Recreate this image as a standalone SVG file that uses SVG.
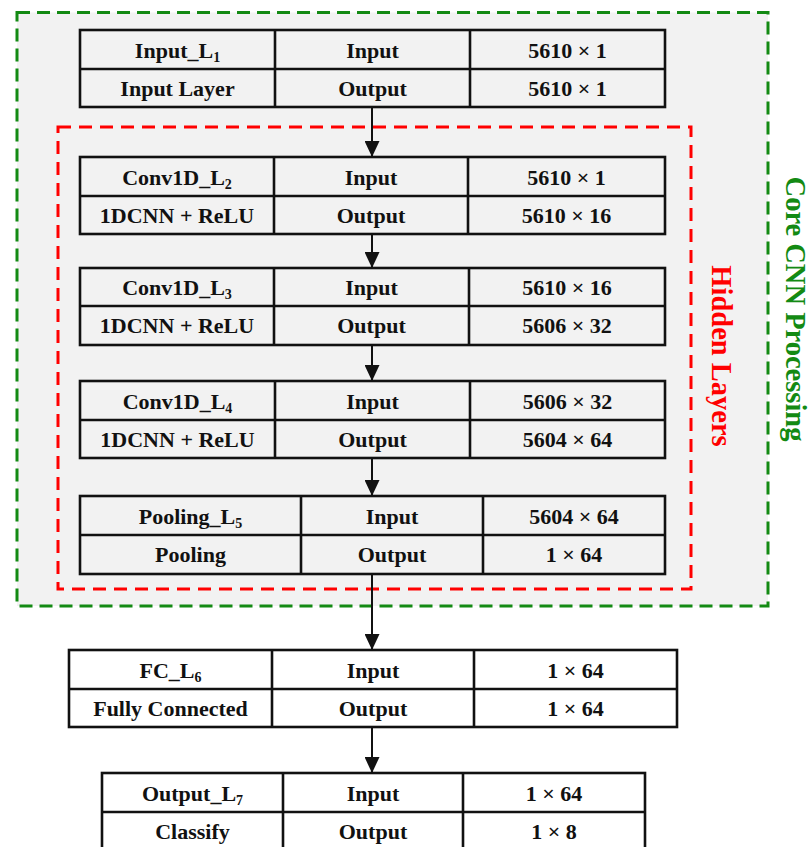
<svg xmlns="http://www.w3.org/2000/svg" width="810" height="847" viewBox="0 0 810 847">
  <style>
    .cell { fill: none; stroke: #111; stroke-width: 2.6; }
    .grid { stroke: #111; stroke-width: 2.6; }
    .t { font-family: "Liberation Serif", "Times New Roman", serif; font-weight: bold; font-size: 22px; fill: #111; text-anchor: middle; }
    .sub { font-size: 14px; }
    .side { font-family: "Liberation Serif", "Times New Roman", serif; font-weight: bold; font-size: 28.5px; text-anchor: middle; }
    .arrow { stroke: #111; stroke-width: 2; fill: none; marker-end: url(#head); }
  </style>
  <defs>
    <marker id="head" markerUnits="userSpaceOnUse" markerWidth="16" markerHeight="15" refX="16" refY="7.5" orient="auto">
      <path d="M0,0 L16,7.5 L0,15 Z" fill="#111"/>
    </marker>
  </defs>

  <rect width="810" height="847" fill="#ffffff"/>

  <!-- outer region: core CNN processing -->
  <g id="core-region">
    <rect x="17" y="12.5" width="751" height="593.5" fill="#f2f2f2" stroke="#138a13" stroke-width="3" stroke-dasharray="13,7"/>
    <text class="side" fill="#138a13" transform="translate(786,309) rotate(90)">Core CNN Processing</text>
  </g>

  <!-- inner region: hidden layers -->
  <g id="hidden-region">
    <rect x="58" y="127" width="633" height="462" fill="none" stroke="#ff0000" stroke-width="3" stroke-dasharray="13,8"/>
    <text class="side" fill="#ff0000" transform="translate(712,356) rotate(90)">Hidden Layers</text>
  </g>

  <!-- layer tables -->
  <g id="input-l1">
    <rect class="cell" x="80" y="30" width="585" height="77" fill="#f2f2f2"/>
    <line class="grid" x1="80" y1="69" x2="665" y2="69"/>
    <line class="grid" x1="275" y1="30" x2="275" y2="107"/>
    <line class="grid" x1="470" y1="30" x2="470" y2="107"/>
    <text class="t" x="177.5" y="57.5">Input_L<tspan class="sub" dy="4">1</tspan></text>
    <text class="t" x="372.5" y="57.5">Input</text>
    <text class="t" x="567.5" y="57.5">5610 × 1</text>
    <text class="t" x="177.5" y="95.5">Input Layer</text>
    <text class="t" x="372.5" y="95.5">Output</text>
    <text class="t" x="567.5" y="95.5">5610 × 1</text>
  </g>

  <g id="conv1d-l2">
    <rect class="cell" x="80" y="157" width="585" height="77"/>
    <line class="grid" x1="80" y1="196" x2="665" y2="196"/>
    <line class="grid" x1="274" y1="157" x2="274" y2="234"/>
    <line class="grid" x1="468" y1="157" x2="468" y2="234"/>
    <text class="t" x="177" y="184.5">Conv1D_L<tspan class="sub" dy="4">2</tspan></text>
    <text class="t" x="371" y="184.5">Input</text>
    <text class="t" x="566.5" y="184.5">5610 × 1</text>
    <text class="t" x="177" y="222.5">1DCNN + ReLU</text>
    <text class="t" x="371" y="222.5">Output</text>
    <text class="t" x="566.5" y="222.5">5610 × 16</text>
  </g>

  <g id="conv1d-l3">
    <rect class="cell" x="80" y="268" width="585" height="77"/>
    <line class="grid" x1="80" y1="306" x2="665" y2="306"/>
    <line class="grid" x1="274" y1="268" x2="274" y2="345"/>
    <line class="grid" x1="469" y1="268" x2="469" y2="345"/>
    <text class="t" x="177" y="295">Conv1D_L<tspan class="sub" dy="4">3</tspan></text>
    <text class="t" x="371.5" y="295">Input</text>
    <text class="t" x="567" y="295">5610 × 16</text>
    <text class="t" x="177" y="333">1DCNN + ReLU</text>
    <text class="t" x="371.5" y="333">Output</text>
    <text class="t" x="567" y="333">5606 × 32</text>
  </g>

  <g id="conv1d-l4">
    <rect class="cell" x="80" y="381" width="585" height="77"/>
    <line class="grid" x1="80" y1="420" x2="665" y2="420"/>
    <line class="grid" x1="275" y1="381" x2="275" y2="458"/>
    <line class="grid" x1="470" y1="381" x2="470" y2="458"/>
    <text class="t" x="177.5" y="408.5">Conv1D_L<tspan class="sub" dy="4">4</tspan></text>
    <text class="t" x="372.5" y="408.5">Input</text>
    <text class="t" x="567.5" y="408.5">5606 × 32</text>
    <text class="t" x="177.5" y="446.5">1DCNN + ReLU</text>
    <text class="t" x="372.5" y="446.5">Output</text>
    <text class="t" x="567.5" y="446.5">5604 × 64</text>
  </g>

  <g id="pooling-l5">
    <rect class="cell" x="80" y="496" width="585" height="78"/>
    <line class="grid" x1="80" y1="535" x2="665" y2="535"/>
    <line class="grid" x1="301" y1="496" x2="301" y2="574"/>
    <line class="grid" x1="483" y1="496" x2="483" y2="574"/>
    <text class="t" x="190.5" y="523.5">Pooling_L<tspan class="sub" dy="4">5</tspan></text>
    <text class="t" x="392" y="523.5">Input</text>
    <text class="t" x="574" y="523.5">5604 × 64</text>
    <text class="t" x="190.5" y="562">Pooling</text>
    <text class="t" x="392" y="562">Output</text>
    <text class="t" x="574" y="562">1 × 64</text>
  </g>

  <g id="fc-l6">
    <rect class="cell" x="69" y="650" width="608" height="77" fill="#ffffff"/>
    <line class="grid" x1="69" y1="689" x2="677" y2="689"/>
    <line class="grid" x1="272" y1="650" x2="272" y2="727"/>
    <line class="grid" x1="474" y1="650" x2="474" y2="727"/>
    <text class="t" x="170.5" y="677.5">FC_L<tspan class="sub" dy="4">6</tspan></text>
    <text class="t" x="373" y="677.5">Input</text>
    <text class="t" x="575.5" y="677.5">1 × 64</text>
    <text class="t" x="170.5" y="715.5">Fully Connected</text>
    <text class="t" x="373" y="715.5">Output</text>
    <text class="t" x="575.5" y="715.5">1 × 64</text>
  </g>

  <g id="output-l7">
    <rect class="cell" x="102" y="773" width="543" height="78" fill="#ffffff"/>
    <line class="grid" x1="102" y1="812" x2="645" y2="812"/>
    <line class="grid" x1="283" y1="773" x2="283" y2="851"/>
    <line class="grid" x1="463" y1="773" x2="463" y2="851"/>
    <text class="t" x="192.5" y="800.5">Output_L<tspan class="sub" dy="4">7</tspan></text>
    <text class="t" x="373" y="800.5">Input</text>
    <text class="t" x="554" y="800.5">1 × 64</text>
    <text class="t" x="192.5" y="839">Classify</text>
    <text class="t" x="373" y="839">Output</text>
    <text class="t" x="554" y="839">1 × 8</text>
  </g>

  <!-- connectors between layers -->
  <g id="connectors">
    <line class="arrow" x1="372" y1="107" x2="372" y2="157"/>
    <line class="arrow" x1="372" y1="234" x2="372" y2="268"/>
    <line class="arrow" x1="372" y1="345" x2="372" y2="381"/>
    <line class="arrow" x1="372" y1="458" x2="372" y2="496"/>
    <line class="arrow" x1="372" y1="574" x2="372" y2="650"/>
    <line class="arrow" x1="372" y1="727" x2="372" y2="773"/>
  </g>
</svg>
